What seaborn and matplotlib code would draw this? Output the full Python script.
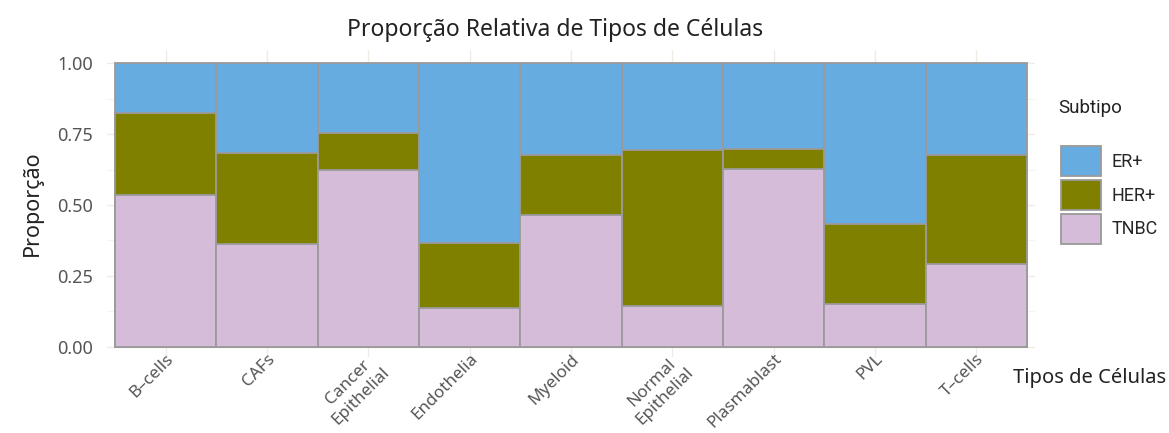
import numpy as np
import pandas as pd
import seaborn as sns
import matplotlib.pyplot as plt
from matplotlib.patches import Patch
from matplotlib.ticker import MultipleLocator
from matplotlib.transforms import ScaledTranslation

tipos = ["B-cells", "CAFs", "Cancer Epithelial", "Endothelia", "Myeloid",
         "Normal Epithelial", "Plasmablast", "PVL", "T-cells"]
rotulos = ["B\u2013cells", "CAFs", "Cancer\nEpithelial", "Endothelia", "Myeloid",
           "Normal\nEpithelial", "Plasmablast", "PVL", "T\u2013cells"]
subtipos = ["ER+", "HER+", "TNBC"]
tnbc = [0.535, 0.362, 0.623, 0.135, 0.465, 0.145, 0.626, 0.150, 0.291]
her = [0.289, 0.320, 0.132, 0.230, 0.211, 0.549, 0.071, 0.282, 0.385]
er = [0.176, 0.318, 0.245, 0.635, 0.324, 0.306, 0.303, 0.568, 0.324]
cores = {"ER+": "#67ACE1", "HER+": "#7F7F00", "TNBC": "#D5BCD8"}

df = pd.DataFrame({"tipo": tipos, "TNBC": tnbc, "HER+": her, "ER+": er})
# acumulado: desenha do topo para baixo
df["c_tnbc"] = df["TNBC"]
df["c_her"] = df["TNBC"] + df["HER+"]
df["c_er"] = df["c_her"] + df["ER+"]

sns.set_style("white")
plt.rcParams["font.family"] = ["Noto Sans", "DejaVu Sans"]

fig = plt.figure(figsize=(11.69, 4.33), dpi=100)
ax = fig.add_axes([107 / 1169, 1 - 356.6 / 433, 928 / 1169, 306.6 / 433])

for col, sub in [("c_er", "ER+"), ("c_her", "HER+"), ("c_tnbc", "TNBC")]:
    sns.barplot(data=df, x="tipo", y=col, color=cores[sub], width=1,
                edgecolor="#9a9a9a", linewidth=1.3, saturation=1, ax=ax, zorder=2)

ax.set_xlim(-0.58, 8.58)
ax.set_ylim(-0.035, 1.047)
ax.set_yticks([0, 0.25, 0.5, 0.75, 1.0])
ax.set_yticklabels(["0.00", "0.25", "0.50", "0.75", "1.00"], color="#555555", fontsize=13)
ax.yaxis.set_minor_locator(MultipleLocator(0.125))
ax.set_xticks(range(len(tipos)))
ax.set_xticklabels(rotulos, rotation=45, ha="right", va="top", rotation_mode="anchor",
                   color="#555555", fontsize=12.3, multialignment="center")
# desloca os rótulos um pouco para a direita, como no original
desloc = ScaledTranslation(6 / 72, 0, fig.dpi_scale_trans)
for lab in ax.get_xticklabels():
    lab.set_transform(lab.get_transform() + desloc)
ax.tick_params(axis="x", pad=-4, length=0)
ax.tick_params(axis="y", length=0, pad=10)
ax.grid(True, which="major", color="#f1ebe3", linewidth=1, zorder=0)
ax.grid(True, which="minor", axis="y", color="#f6f2ec", linewidth=0.8, zorder=0)
ax.set_axisbelow(True)
for s in ax.spines.values():
    s.set_visible(False)
ax.set_xlabel("")
ax.set_ylabel("Proporção", fontsize=15.5, color="#222222", labelpad=10)

fig.text(555 / 1169, 1 - 30 / 433, "Proporção Relativa de Tipos de Células",
         ha="center", va="center", fontsize=16.5, color="#222222")
fig.text(1166 / 1169, 1 - 378 / 433, "Tipos de Células", ha="right", va="center",
         fontsize=14.5, color="#222222")
fig.text(1058 / 1169, 1 - 108 / 433, "Subtipo", ha="left", va="center",
         fontsize=13.5, color="#222222", family=["Roboto", "DejaVu Sans"])

handles = [Patch(facecolor=cores[s], edgecolor="#9a9a9a", linewidth=1.3) for s in subtipos]
leg = fig.legend(handles, subtipos, loc="upper left", bbox_to_anchor=(1061 / 1169, 1 - 146 / 433),
                 frameon=False, borderpad=0, borderaxespad=0, handlelength=2.2,
                 handleheight=2.2, handletextpad=0.6, labelspacing=0.2,
                 prop={"family": ["Roboto", "DejaVu Sans"], "size": 13})

fig.savefig("out.png", dpi=100)
